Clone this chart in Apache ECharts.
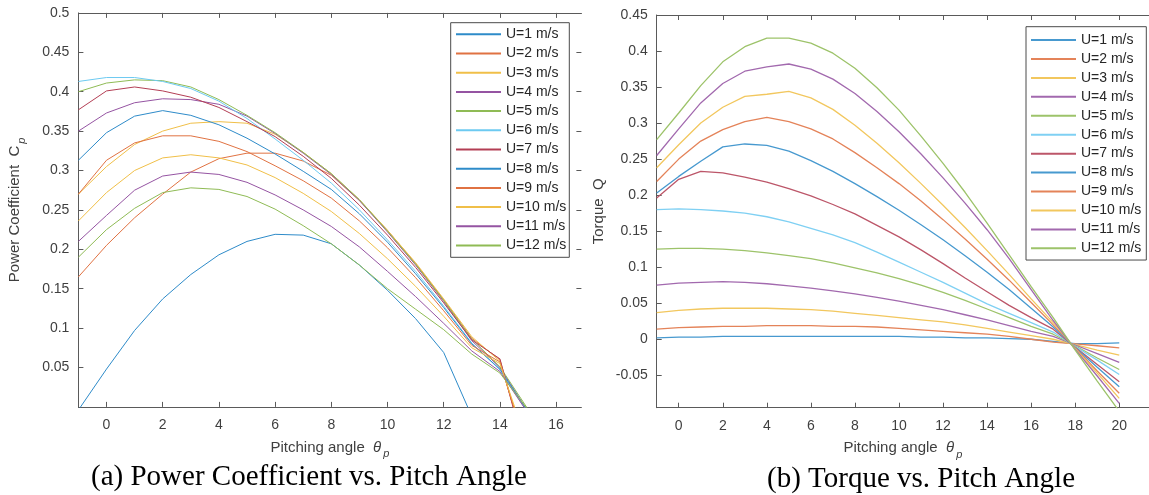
<!DOCTYPE html>
<html>
<head>
<meta charset="utf-8">
<script src="https://cdn.jsdelivr.net/npm/echarts@6/dist/echarts.min.js"></script>
<style>
  html, body { margin: 0; padding: 0; background: #fff; }
  #chart { width: 1149px; height: 495px; }
</style>
</head>
<body>
<div id="chart"></div>
<script>
// Pitch angles (deg) at which each curve is sampled
const pitchCp = [-1, 0, 1, 2, 3, 4, 5, 6, 7, 8, 9, 10, 11, 12, 13, 14, 15];
const pitchQ = [-1, 0, 1, 2, 3, 4, 5, 6, 7, 8, 9, 10, 11, 12, 13, 14, 15, 16, 17, 18, 19, 20];

const speedLabels = ['U=1 m/s', 'U=2 m/s', 'U=3 m/s', 'U=4 m/s', 'U=5 m/s', 'U=6 m/s',
  'U=7 m/s', 'U=8 m/s', 'U=9 m/s', 'U=10 m/s', 'U=11 m/s', 'U=12 m/s'];

// Power coefficient Cp per wind speed
const cp1 = [-0.004, 0.048, 0.097, 0.137, 0.168, 0.193, 0.210, 0.219, 0.218, 0.207, 0.180, 0.148, 0.112, 0.069, -0.012];
const cp2 = [0.165, 0.205, 0.240, 0.270, 0.298, 0.315, 0.322, 0.322, 0.312, 0.294, 0.262, 0.224, 0.182, 0.136, 0.087, 0.060, -0.065];
const cp3 = [0.270, 0.305, 0.333, 0.350, 0.360, 0.362, 0.360, 0.346, 0.323, 0.296, 0.263, 0.224, 0.183, 0.137, 0.089, 0.058, -0.060];
const cp4 = [0.350, 0.373, 0.386, 0.391, 0.390, 0.384, 0.369, 0.347, 0.322, 0.295, 0.262, 0.222, 0.180, 0.134, 0.084, 0.050, -0.006];
const cp5 = [0.400, 0.411, 0.415, 0.414, 0.406, 0.390, 0.370, 0.348, 0.323, 0.296, 0.263, 0.223, 0.181, 0.135, 0.086, 0.051, -0.003];
const cp6 = [0.413, 0.418, 0.418, 0.413, 0.404, 0.388, 0.366, 0.340, 0.313, 0.284, 0.250, 0.212, 0.172, 0.128, 0.081, 0.047, -0.008];
const cp7 = [0.377, 0.401, 0.406, 0.401, 0.393, 0.380, 0.362, 0.343, 0.318, 0.290, 0.256, 0.218, 0.177, 0.132, 0.085, 0.061, -0.070];
const cp8 = [0.313, 0.348, 0.369, 0.376, 0.370, 0.358, 0.341, 0.321, 0.299, 0.276, 0.245, 0.209, 0.169, 0.126, 0.080, 0.048, -0.006];
const cp9 = [0.270, 0.313, 0.335, 0.344, 0.344, 0.337, 0.324, 0.306, 0.287, 0.265, 0.236, 0.202, 0.164, 0.122, 0.078, 0.057, -0.060];
const cp10 = [0.236, 0.272, 0.300, 0.316, 0.320, 0.316, 0.307, 0.291, 0.271, 0.248, 0.220, 0.188, 0.153, 0.115, 0.075, 0.055, -0.050];
const cp11 = [0.210, 0.243, 0.275, 0.293, 0.298, 0.295, 0.285, 0.269, 0.250, 0.229, 0.203, 0.172, 0.140, 0.106, 0.071, 0.045, -0.008];
const cp12 = [0.190, 0.225, 0.252, 0.272, 0.278, 0.276, 0.267, 0.251, 0.230, 0.207, 0.180, 0.150, 0.124, 0.098, 0.067, 0.043, -0.004];

// Torque Q per wind speed
const q1 = [0.002, 0.003, 0.003, 0.004, 0.004, 0.004, 0.004, 0.004, 0.004, 0.004, 0.004, 0.004, 0.003, 0.003, 0.002, 0.002, 0.001, 0.000, -0.003, -0.006, -0.006, -0.005];
const q2 = [0.014, 0.016, 0.017, 0.018, 0.018, 0.019, 0.019, 0.019, 0.018, 0.018, 0.017, 0.015, 0.013, 0.011, 0.009, 0.007, 0.004, 0.000, -0.004, -0.0065, -0.009, -0.012];
const q3 = [0.037, 0.040, 0.042, 0.043, 0.043, 0.043, 0.042, 0.041, 0.039, 0.036, 0.033, 0.030, 0.027, 0.024, 0.020, 0.015, 0.010, 0.005, 0.000, -0.0075, -0.015, -0.022];
const q4 = [0.075, 0.078, 0.079, 0.080, 0.079, 0.077, 0.074, 0.071, 0.067, 0.063, 0.058, 0.053, 0.047, 0.041, 0.034, 0.027, 0.019, 0.011, 0.004, -0.008, -0.020, -0.032];
const q5 = [0.125, 0.126, 0.126, 0.125, 0.123, 0.120, 0.116, 0.112, 0.106, 0.099, 0.092, 0.084, 0.075, 0.065, 0.054, 0.042, 0.030, 0.018, 0.007, -0.009, -0.026, -0.042];
const q6 = [0.180, 0.181, 0.180, 0.178, 0.175, 0.170, 0.163, 0.154, 0.145, 0.134, 0.121, 0.107, 0.093, 0.079, 0.064, 0.049, 0.036, 0.023, 0.010, -0.010, -0.029, -0.049];
const q7 = [0.196, 0.222, 0.233, 0.231, 0.225, 0.218, 0.209, 0.199, 0.187, 0.174, 0.158, 0.142, 0.124, 0.105, 0.085, 0.066, 0.047, 0.030, 0.014, -0.011, -0.035, -0.059];
const q8 = [0.203, 0.226, 0.247, 0.267, 0.271, 0.269, 0.261, 0.248, 0.233, 0.216, 0.198, 0.179, 0.159, 0.138, 0.116, 0.093, 0.069, 0.043, 0.017, -0.0115, -0.039, -0.066];
const q9 = [0.219, 0.250, 0.275, 0.291, 0.302, 0.308, 0.302, 0.292, 0.278, 0.259, 0.238, 0.216, 0.192, 0.166, 0.139, 0.111, 0.082, 0.051, 0.020, -0.012, -0.044, -0.075];
const q10 = [0.238, 0.270, 0.300, 0.322, 0.337, 0.340, 0.344, 0.335, 0.319, 0.297, 0.272, 0.245, 0.216, 0.186, 0.155, 0.123, 0.090, 0.056, 0.023, -0.013, -0.047, -0.082];
const q11 = [0.255, 0.292, 0.328, 0.355, 0.372, 0.378, 0.382, 0.375, 0.361, 0.341, 0.316, 0.288, 0.257, 0.224, 0.189, 0.152, 0.112, 0.069, 0.026, -0.014, -0.051, -0.089];
const q12 = [0.277, 0.314, 0.352, 0.385, 0.406, 0.418, 0.418, 0.411, 0.397, 0.376, 0.349, 0.318, 0.282, 0.244, 0.204, 0.161, 0.117, 0.073, 0.030, -0.015, -0.058, -0.100];

// Tick labels
const cpTicks = [0.05, 0.1, 0.15, 0.2, 0.25, 0.3, 0.35, 0.4, 0.45, 0.5];
const qTicks = [-0.05, 0, 0.05, 0.1, 0.15, 0.2, 0.25, 0.3, 0.35, 0.4, 0.45];
const pitchTicksCp = [0, 2, 4, 6, 8, 10, 12, 14, 16];
const pitchTicksQ = [0, 2, 4, 6, 8, 10, 12, 14, 16, 18, 20];

const cpCurves = [cp1, cp2, cp3, cp4, cp5, cp6, cp7, cp8, cp9, cp10, cp11, cp12];
const qCurves = [q1, q2, q3, q4, q5, q6, q7, q8, q9, q10, q11, q12];

// MATLAB-style line colour order
const lineOrder = ['#0072BD', '#D95319', '#EDB120', '#7E2F8E', '#77AC30', '#4DBEEE', '#A2142F'];
function tint(hex, k) {
  const n = parseInt(hex.slice(1), 16);
  const c = [(n >> 16) & 255, (n >> 8) & 255, n & 255].map(v => Math.round(v + (255 - v) * k));
  return 'rgb(' + c.join(',') + ')';
}

const FONT = "'Liberation Sans', Arial, sans-serif";
const SERIF = "'Liberation Serif', 'Times New Roman', serif";
const AXIS_COLOR = '#5a5a5a';
const LABEL_COLOR = '#3f3f3f';

function nameStyle() {
  return {
    fontFamily: FONT, fontSize: 15, color: LABEL_COLOR,
    rich: {
      it: { fontFamily: FONT, fontSize: 15, fontStyle: 'italic', color: LABEL_COLOR },
      rm: { fontFamily: FONT, fontSize: 15, color: LABEL_COLOR },
      sub: { fontFamily: FONT, fontSize: 11, fontStyle: 'italic', color: LABEL_COLOR, padding: [14, 0, 0, 2] }
    }
  };
}

function bottomAxis(gridIndex, min, max, ticks) {
  return {
    type: 'value', gridIndex, position: 'bottom', min, max,
    axisLine: { show: true, onZero: false, lineStyle: { color: AXIS_COLOR, width: 1 } },
    axisTick: { show: true, inside: true, length: 5, customValues: ticks, lineStyle: { color: AXIS_COLOR } },
    axisLabel: { show: true, customValues: ticks, margin: 11, fontFamily: FONT, fontSize: 14, color: LABEL_COLOR },
    splitLine: { show: false },
    name: 'Pitching angle  {it|θ}{sub|p}',
    nameLocation: 'middle', nameGap: 28,
    nameTextStyle: nameStyle()
  };
}
function topAxis(gridIndex, min, max, ticks) {
  return {
    type: 'value', gridIndex, position: 'top', min, max,
    axisLine: { show: true, onZero: false, lineStyle: { color: AXIS_COLOR, width: 1 } },
    axisTick: { show: true, inside: true, length: 5, customValues: ticks, lineStyle: { color: AXIS_COLOR } },
    axisLabel: { show: false },
    splitLine: { show: false }
  };
}
function leftAxis(gridIndex, min, max, ticks, name, gap) {
  return {
    type: 'value', gridIndex, position: 'left', min, max,
    axisLine: { show: true, onZero: false, lineStyle: { color: AXIS_COLOR, width: 1 } },
    axisTick: { show: true, inside: true, length: 5, customValues: ticks, lineStyle: { color: AXIS_COLOR } },
    axisLabel: { show: true, customValues: ticks, margin: 9, fontFamily: FONT, fontSize: 14, color: LABEL_COLOR },
    splitLine: { show: false },
    name, nameLocation: 'middle', nameGap: gap,
    nameTextStyle: nameStyle()
  };
}

const series = [];
cpCurves.forEach((vals, i) => {
  const col = tint(lineOrder[i % 7], 0.18);
  series.push({
    name: 'Cp, ' + speedLabels[i], type: 'line', xAxisIndex: 0, yAxisIndex: 0,
    data: vals.map((v, j) => [pitchCp[j], v]),
    symbol: 'none', clip: true, silent: true, color: col,
    lineStyle: { width: 1, color: col }
  });
});
qCurves.forEach((vals, i) => {
  const col = tint(lineOrder[i % 7], 0.28);
  series.push({
    name: 'Q, ' + speedLabels[i], type: 'line', xAxisIndex: 2, yAxisIndex: 2,
    data: vals.map((v, j) => [pitchQ[j], v]),
    symbol: 'none', clip: true, silent: true, color: col,
    lineStyle: { width: 1.3, color: col }
  });
});

function legendBox(prefix, left, top, gap, padding) {
  return {
    data: speedLabels.map(s => prefix + s),
    orient: 'vertical', left, top,
    itemWidth: 45, itemHeight: 14, itemGap: gap,
    padding, selectedMode: false,
    itemStyle: { opacity: 0 },
    backgroundColor: '#ffffff', borderColor: '#4a4a4a', borderWidth: 1, borderRadius: 0,
    formatter: name => name.slice(name.indexOf(', ') + 2),
    textStyle: { fontFamily: FONT, fontSize: 14, color: '#262626' }
  };
}

const chart = echarts.init(document.getElementById('chart'), null, { renderer: 'canvas' });
chart.setOption({
  animation: false,
  backgroundColor: '#ffffff',
  title: [
    { text: '(a) Power Coefficient vs. Pitch Angle', left: 309, top: 463, textAlign: 'center', padding: 0,
      textStyle: { fontFamily: SERIF, fontSize: 29, fontWeight: 'normal', color: '#000' } },
    { text: '(b) Torque vs. Pitch Angle', left: 921, top: 465, textAlign: 'center', padding: 0,
      textStyle: { fontFamily: SERIF, fontSize: 29, fontWeight: 'normal', color: '#000' } }
  ],
  grid: [
    { left: 78.4, top: 12.9, width: 503, height: 394, containLabel: false },
    { left: 656.7, top: 15, width: 492.3, height: 392.7, containLabel: false }
  ],
  xAxis: [
    bottomAxis(0, -1, 16.9, pitchTicksCp),
    topAxis(0, -1, 16.9, pitchTicksCp),
    bottomAxis(1, -1, 21.35, pitchTicksQ),
    topAxis(1, -1, 21.35, pitchTicksQ)
  ],
  yAxis: [
    leftAxis(0, 0, 0.5, cpTicks, 'Power Coefficient  {rm|C}{sub|p}', 51),
    {
      type: 'value', gridIndex: 0, position: 'right', min: 0, max: 0.5,
      axisLine: { show: false, onZero: false },
      axisTick: { show: true, inside: true, length: 5, customValues: cpTicks, lineStyle: { color: AXIS_COLOR } },
      axisLabel: { show: false }, splitLine: { show: false }
    },
    leftAxis(1, -0.095, 0.45, qTicks, 'Torque  {rm|Q}', 50)
  ],
  legend: [
    legendBox('Cp, ', 450.7, 22.7, 5.2, [4.6, 3, 4.8, 4.3]),
    legendBox('Q, ', 1026, 26.7, 4.94, [6.3, 5, 4.7, 4])
  ],
  series
});
</script>
</body>
</html>
